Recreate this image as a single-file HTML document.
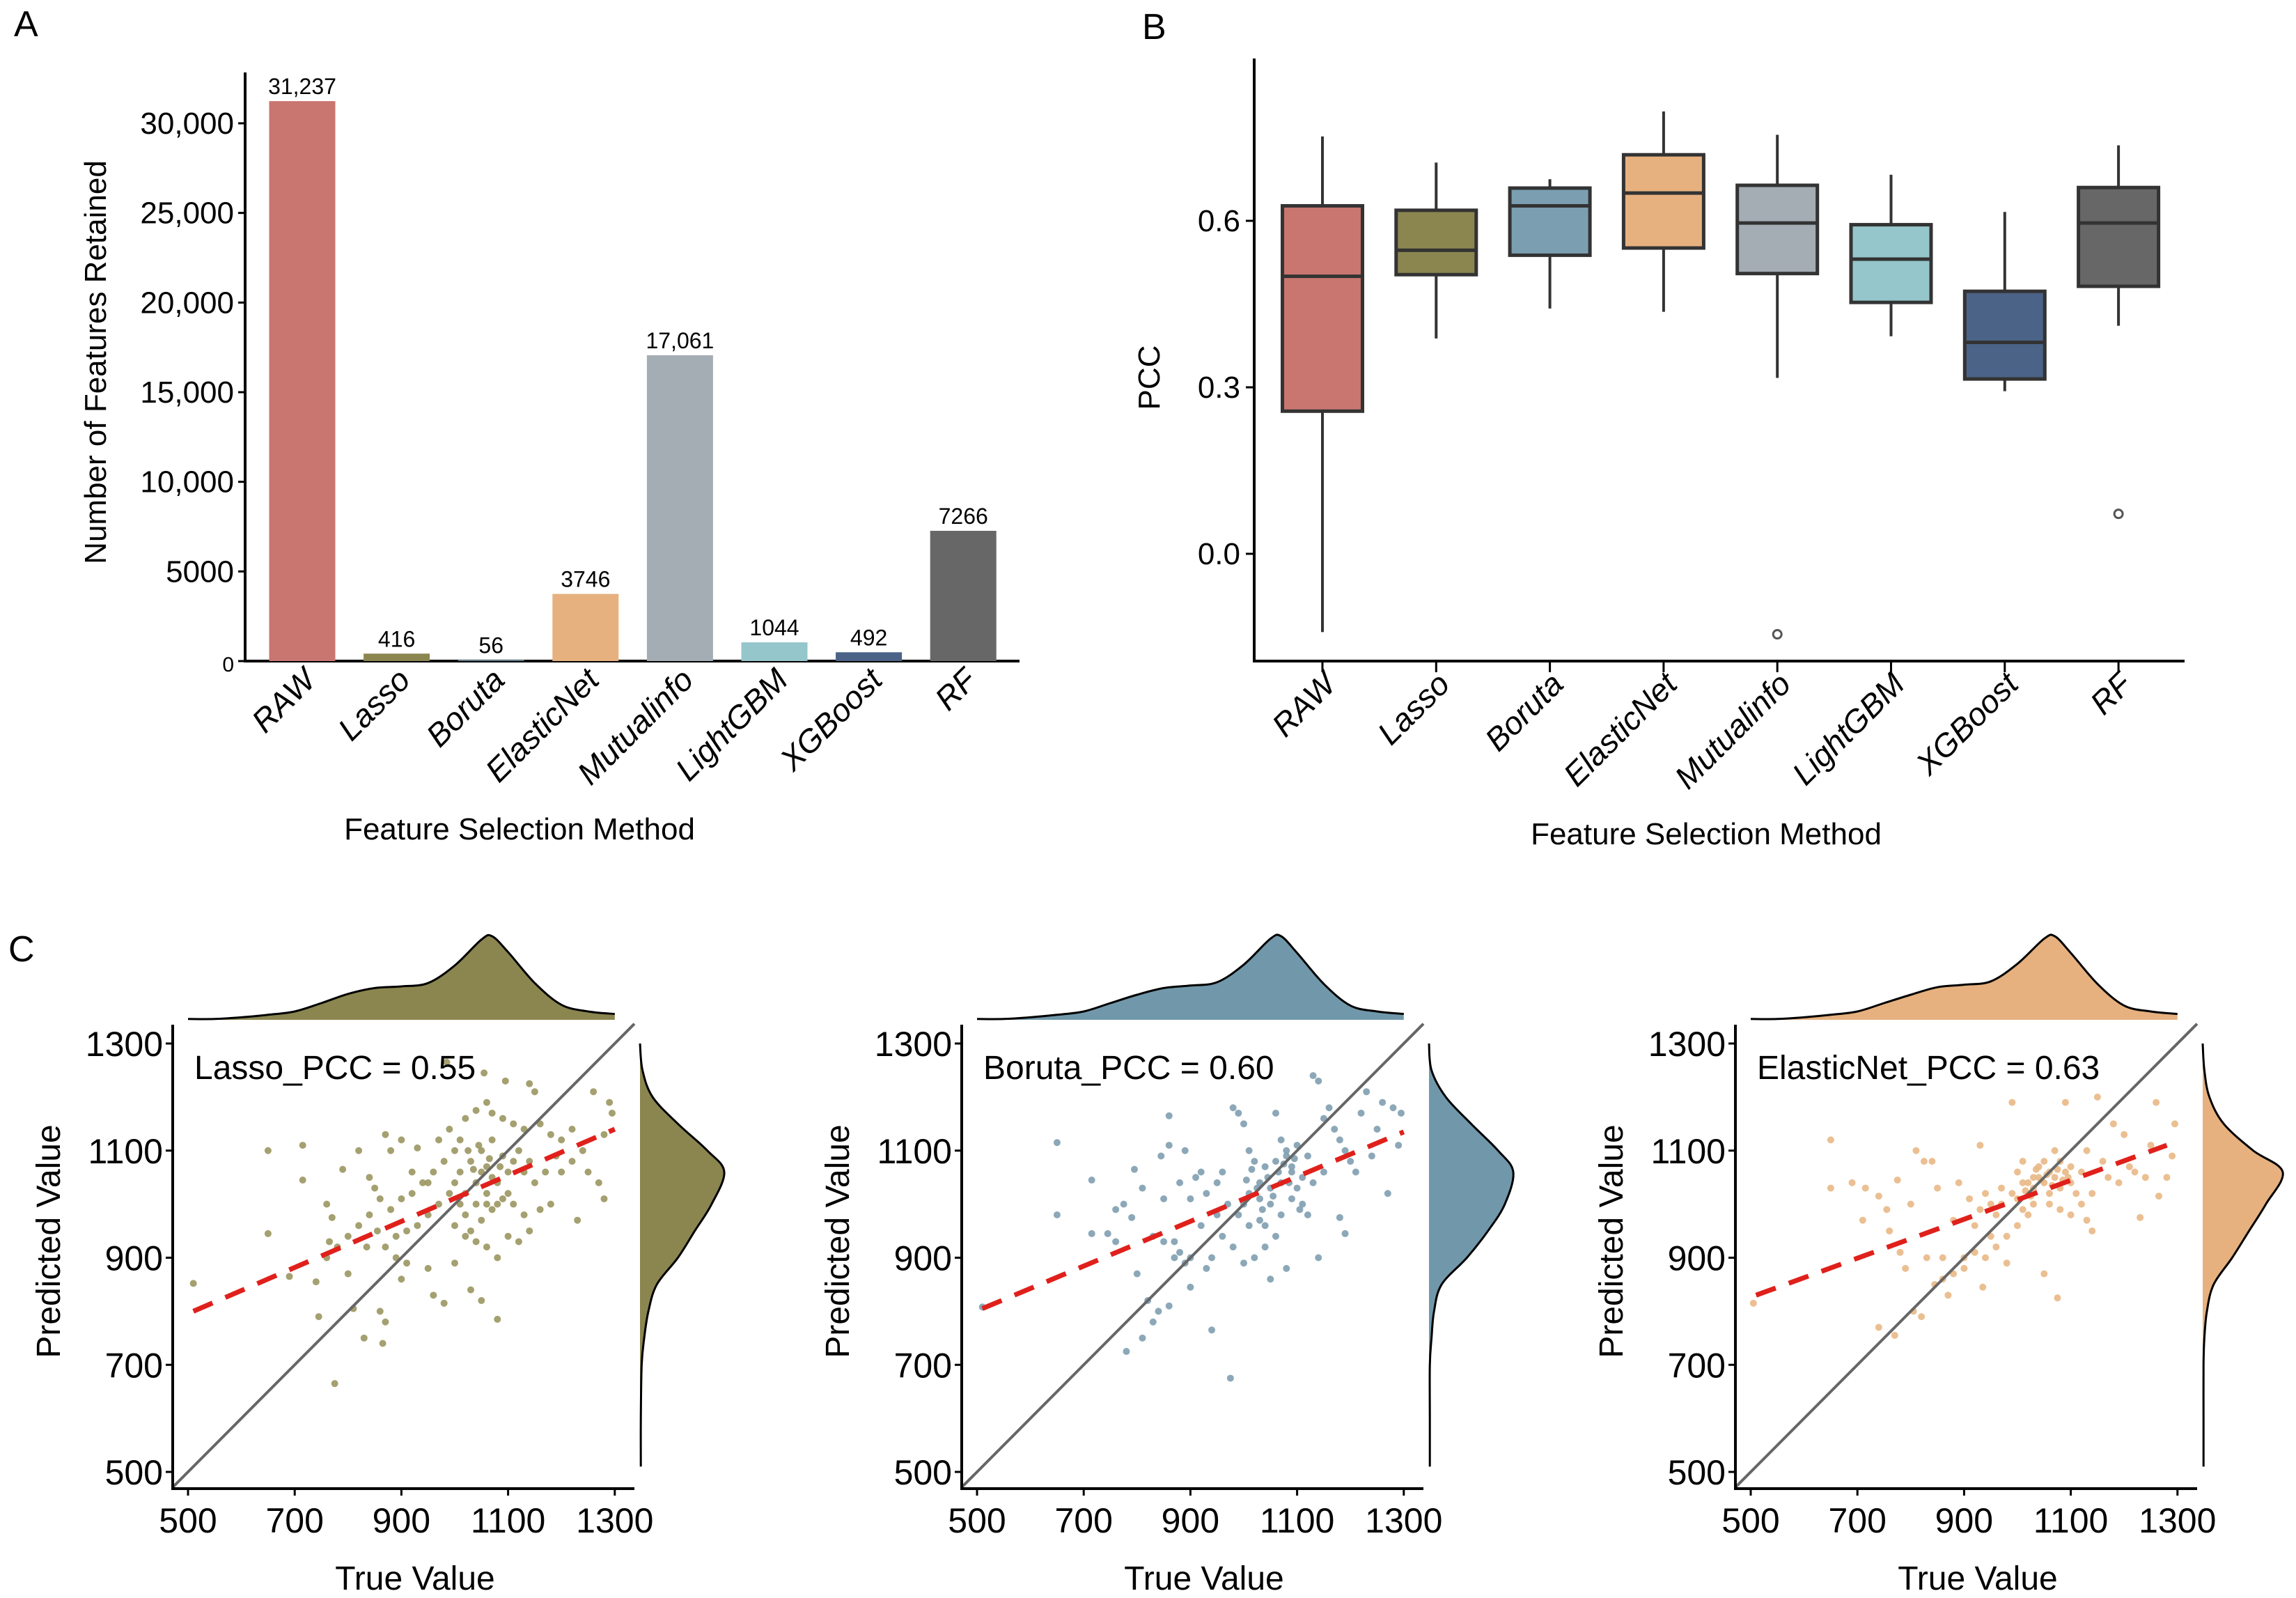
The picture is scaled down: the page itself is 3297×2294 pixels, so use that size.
<!DOCTYPE html>
<html><head><meta charset="utf-8"><style>
html,body{margin:0;padding:0;background:#fff}
svg{display:block;font-family:"Liberation Sans",Arial,sans-serif}
</style></head><body>
<svg id="fig" width="3297" height="2294" viewBox="0 0 3297 2294" xmlns="http://www.w3.org/2000/svg">
<rect width="3297" height="2294" fill="#fff"/>
<text x="20" y="52" font-size="52">A</text>
<text x="1640" y="56" font-size="52">B</text>
<text x="12" y="1380" font-size="52">C</text>
<g id="pa"></g>
<g id="pb"></g>
<g id="pc"></g>
</svg>
<script>
// ---- Panel A data ----
const methods = ["RAW","Lasso","Boruta","ElasticNet","Mutualinfo","LightGBM","XGBoost","RF"];
const featureCounts = [31237,416,56,3746,17061,1044,492,7266];
const countLabels = ["31,237","416","56","3746","17,061","1044","492","7266"];
const aTicks = [0,5000,10000,15000,20000,25000,30000];
const aTickLabels = ["0","5000","10,000","15,000","20,000","25,000","30,000"];
const colors = ["#c8766f","#8b8650","#7b9fb1","#e6b17f","#a4acb4","#94c6cb","#4b6387","#676767"];
// ---- Panel B data ----
const pccTicks = [0.0,0.3,0.6];
const pccTickLabels = ["0.0","0.3","0.6"];
const whiskLow = [-0.141,0.388,0.442,0.436,0.317,0.392,0.293,0.411];
const q1 = [0.257,0.503,0.538,0.551,0.505,0.453,0.315,0.482];
const medians = [0.500,0.547,0.627,0.650,0.596,0.531,0.381,0.596];
const q3 = [0.627,0.619,0.659,0.719,0.664,0.593,0.473,0.660];
const whiskHigh = [0.752,0.705,0.675,0.797,0.755,0.683,0.616,0.736];
const outliers = [[4,-0.145],[7,0.072]];
// ---- Panel C data ----
const cTicks = [500,700,900,1100,1300];
const panelNames = ["Lasso","Boruta","ElasticNet"];
const pccValues = ["0.55","0.60","0.63"];
const fillColors = ["#8b8650","#7198aa","#e6b17f"];
const pointColors = ["#9b9660","#7f9fb0","#e9b886"];
const regLines = [[510,800,1300,1140],[510,805,1300,1135],[510,830,1280,1110]];
const densX = [500,550,600,650,700,750,800,850,900,950,1000,1050,1070,1100,1150,1200,1250,1300];
const topDens = [
 [0.01,0.01,0.03,0.06,0.1,0.2,0.31,0.38,0.4,0.44,0.65,0.96,1,0.81,0.44,0.18,0.1,0.07],
 [0.01,0.01,0.03,0.06,0.1,0.2,0.3,0.38,0.41,0.45,0.66,0.97,1,0.8,0.43,0.17,0.1,0.07],
 [0.01,0.01,0.03,0.06,0.1,0.2,0.3,0.39,0.42,0.46,0.67,0.97,1,0.8,0.43,0.17,0.1,0.07]];
const densY = [1300,1250,1200,1150,1100,1060,1000,950,900,850,800,750,700,600,510];
const rightDens = [
 [0,0.03,0.15,0.45,0.8,1.0,0.85,0.65,0.45,0.2,0.1,0.05,0.02,0.01,0.01],
 [0,0.03,0.2,0.5,0.82,1.0,0.9,0.7,0.45,0.15,0.06,0.03,0.01,0.01,0.01],
 [0,0.02,0.08,0.25,0.6,0.95,0.75,0.55,0.35,0.13,0.05,0.02,0.01,0.01,0.01]];
const ptsLasso = [[510,852],[650,1100],[650,945],[715,1110],[715,1045],[775,665],[690,865],[745,790],[740,855],[760,1000],[770,975],[765,930],[790,1065],[800,870],[810,805],[820,1100],[830,750],[840,1050],[865,740],[870,1130],[880,1100],[900,1120],[930,1105],[985,1265],[1055,1245],[1095,1230],[1140,1225],[1150,1210],[1260,1210],[1290,1190],[1295,1170],[1230,970],[1080,785],[1050,820],[1030,840],[1000,890],[980,815],[960,830],[870,780],[860,800],[950,880],[910,890],[900,860],[890,900],[835,920],[855,950],[880,990],[900,1010],[920,1020],[940,1040],[960,1060],[980,1080],[1000,1100],[1010,1120],[1020,1160],[1040,1175],[1060,1190],[1070,1170],[1090,1160],[1110,1150],[1130,1140],[1160,1150],[1180,1130],[1200,1120],[1220,1140],[1240,1100],[1250,1060],[1270,1040],[1280,1010],[1280,1130],[1190,1090],[1170,1060],[1150,1040],[1140,1080],[1120,1100],[1100,1060],[1080,1040],[1060,1020],[1040,1000],[1020,980],[1000,960],[1030,950],[1050,970],[1070,990],[1090,1010],[1110,1000],[1130,980],[1140,950],[1120,930],[1100,940],[1080,900],[1060,920],[1040,930],[1020,940],[1010,1000],[990,1020],[970,1000],[950,980],[930,960],[910,950],[890,940],[870,920],[850,1030],[860,1010],[840,980],[820,960],[800,940],[780,920],[760,900],[920,1060],[950,1040],[970,1120],[990,1140],[1010,1060],[1030,1080],[1050,1100],[1070,1120],[1090,1090],[1110,1080],[1130,1060],[1050,1060],[1060,1070],[1070,1050],[1040,1040],[1060,1000],[1080,1000],[1100,1020],[1160,990],[1180,1000],[1200,1060],[1220,1080],[1000,1040],[1020,1020],[1035,1065],[1065,1085],[1085,1070],[1045,1110],[1025,1100]];
const ptsBoruta = [[510,808],[650,1115],[650,980],[715,1045],[715,945],[745,945],[760,990],[760,930],[775,1000],[780,725],[790,975],[795,1065],[800,870],[810,1030],[810,750],[820,820],[830,780],[840,800],[845,1090],[850,1010],[860,1165],[860,1110],[860,810],[870,930],[880,1040],[890,1100],[900,900],[900,845],[910,1050],[920,1060],[940,765],[950,980],[960,1060],[970,1000],[975,675],[980,1180],[990,1170],[1000,1150],[1010,1100],[1020,1080],[1030,1040],[1040,960],[1050,860],[1060,1170],[1070,1120],[1080,1090],[1090,1060],[1100,1030],[1110,1000],[1120,980],[1130,1240],[1140,1230],[1150,1160],[1160,1180],[1170,1140],[1180,1120],[1190,1100],[1200,1080],[1210,1060],[1220,1170],[1230,1210],[1240,1090],[1250,1140],[1260,1190],[1270,1020],[1280,1180],[1290,1110],[1295,1170],[1140,900],[1190,945],[1180,975],[1080,880],[1060,940],[1040,920],[1020,900],[1000,890],[980,920],[960,940],[940,900],[930,880],[920,960],[1000,1000],[1010,1020],[1030,1010],[1050,1030],[1070,1040],[1090,1070],[1110,1050],[1130,1040],[1150,1060],[1040,1070],[1060,1080],[1080,1100],[1100,1110],[1120,1090],[1050,1000],[1070,980],[1090,1010],[1030,970],[1010,960],[990,980],[870,900],[880,910],[890,890],[850,930],[830,940],[900,1010],[930,1020],[950,1040],[1045,1050],[1065,1060],[1075,1075],[1055,1015],[1025,1030],[1085,1040],[1035,990],[1015,1065],[1095,1085],[1105,990],[1005,1045]];
const ptsElastic = [[505,815],[650,1120],[650,1030],[690,1040],[715,1030],[710,970],[740,1015],[740,770],[755,990],[760,950],[770,755],[775,1045],[780,910],[790,880],[800,1000],[805,800],[810,1100],[820,790],[825,1080],[830,900],[840,1080],[845,850],[850,1030],[860,860],[870,830],[880,970],[890,1040],[900,900],[910,1010],[920,960],[930,1110],[935,845],[940,1020],[950,940],[960,980],[970,1000],[980,890],[990,1190],[1000,1060],[1010,1080],[1020,1040],[1030,1000],[1040,1050],[1050,870],[1060,1060],[1070,1100],[1075,825],[1080,1080],[1090,1190],[1100,1040],[1110,1020],[1120,1060],[1130,1100],[1140,950],[1150,1200],[1160,1080],[1170,1050],[1180,1150],[1190,1040],[1200,1130],[1210,1070],[1220,1060],[1230,975],[1240,1050],[1250,1110],[1260,1190],[1265,1015],[1280,1050],[1290,1090],[1295,1150],[1000,1010],[1010,990],[1030,1030],[1040,1070],[1050,1040],[1060,1020],[1070,1050],[1080,1030],[1090,1060],[1100,1070],[1020,980],[1000,960],[980,940],[960,920],[940,900],[920,910],[900,880],[880,870],[860,900],[1060,1000],[1080,990],[1100,980],[1120,1000],[1140,1020],[1130,970],[1050,1080],[1030,1050],[1010,1040],[990,1020],[970,1030],[950,1000],[930,990],[1045,1045],[1055,1055],[1065,1035],[1035,1065],[1075,1065],[1085,1045],[1025,1015],[1015,1025],[1095,1050]];
const allPts = [ptsLasso, ptsBoruta, ptsElastic];

const NS="http://www.w3.org/2000/svg";
function mk(parent,tag,attrs,text){const e=document.createElementNS(NS,tag);for(const k in attrs)e.setAttribute(k,attrs[k]);if(text!==undefined)e.textContent=text;parent.appendChild(e);return e;}
function smooth(pts){
 let d=`M${pts[0][0]},${pts[0][1]}`;
 for(let i=0;i<pts.length-1;i++){
  const p0=pts[Math.max(0,i-1)],p1=pts[i],p2=pts[i+1],p3=pts[Math.min(pts.length-1,i+2)];
  const c1=[p1[0]+(p2[0]-p0[0])/6,p1[1]+(p2[1]-p0[1])/6];
  const c2=[p2[0]-(p3[0]-p1[0])/6,p2[1]-(p3[1]-p1[1])/6];
  d+=` C${c1[0]},${c1[1]} ${c2[0]},${c2[1]} ${p2[0]},${p2[1]}`;
 }
 return d;
}

// ===== Panel A =====
(function(){
 const g=document.getElementById('pa');
 const x0=352,yBase=949,yTop=104,xEnd=1464;
 const y=v=>yBase-v*(949-177)/30000;
 const cx=i=>434+i*135.6;
 mk(g,'line',{x1:x0,y1:yTop,x2:x0,y2:yBase+2,stroke:'#000','stroke-width':4});
 mk(g,'line',{x1:x0-2,y1:yBase,x2:xEnd,y2:yBase,stroke:'#000','stroke-width':4});
 aTicks.forEach((t,i)=>{
  const tk=mk(g,'line',{x1:x0-10,y1:y(t),x2:x0,y2:y(t),stroke:'#000','stroke-width':3});
  
  
  const tl=mk(g,'text',{x:x0-16,y:y(t)+15,'font-size':t===0?30:44,'text-anchor':'end'},aTickLabels[i]);
  
  
 });
 methods.forEach((m,i)=>{
  const top=y(featureCounts[i]);
  const b=mk(g,'rect',{x:cx(i)-47.5,y:top,width:95,height:yBase-top,fill:colors[i]});
  
  
  const vl=mk(g,'text',{x:cx(i),y:top-10,'font-size':32,'text-anchor':'middle'},countLabels[i]);
  
  
  const cl=mk(g,'text',{x:0,y:0,'font-size':46,'text-anchor':'end',transform:`translate(${cx(i)+22},${yBase+30}) rotate(-45)`,'font-style':'italic'},m);
  
  
 });
 const yt=mk(g,'text',{x:0,y:0,'font-size':44,'text-anchor':'middle',transform:'translate(152,520) rotate(-90)'},'Number of Features Retained');
 
 
 const xt=mk(g,'text',{x:746,y:1205,'font-size':44,'text-anchor':'middle'},'Feature Selection Method');
 
 
})();

// ===== Panel B =====
(function(){
 const g=document.getElementById('pb');
 const x0=1801,yBase=949,yTop=84,xEnd=3137;
 const y=v=>795-v*239/0.3;
 const cx=i=>1899+i*163.3;
 const bw=115;
 mk(g,'line',{x1:x0,y1:yTop,x2:x0,y2:yBase+2,stroke:'#000','stroke-width':4});
 mk(g,'line',{x1:x0-2,y1:yBase,x2:xEnd,y2:yBase,stroke:'#000','stroke-width':4});
 pccTicks.forEach((t,i)=>{
  const tk=mk(g,'line',{x1:x0-12,y1:y(t),x2:x0,y2:y(t),stroke:'#000','stroke-width':3});
  
  
  const tl=mk(g,'text',{x:x0-20,y:y(t)+15,'font-size':44,'text-anchor':'end'},pccTickLabels[i]);
  
  
 });
 methods.forEach((m,i)=>{
  const c=cx(i);
  const tk=mk(g,'line',{x1:c,y1:yBase,x2:c,y2:yBase+16,stroke:'#000','stroke-width':3});
  
  
  mk(g,'line',{x1:c,y1:y(whiskHigh[i]),x2:c,y2:y(q3[i]),stroke:'#333','stroke-width':4});
  mk(g,'line',{x1:c,y1:y(q1[i]),x2:c,y2:y(whiskLow[i]),stroke:'#333','stroke-width':4});
  const bx=mk(g,'rect',{x:c-bw/2,y:y(q3[i]),width:bw,height:y(q1[i])-y(q3[i]),fill:colors[i],stroke:'#333','stroke-width':5});
  
  
  const md=mk(g,'line',{x1:c-bw/2,y1:y(medians[i]),x2:c+bw/2,y2:y(medians[i]),stroke:'#333','stroke-width':5});
  
  
  const cl=mk(g,'text',{x:0,y:0,'font-size':46,'text-anchor':'end',transform:`translate(${c+22},${yBase+36}) rotate(-45)`,'font-style':'italic'},m);
  
  
 });
 outliers.forEach(o=>{
  const p=mk(g,'circle',{cx:cx(o[0]),cy:y(o[1]),r:6,fill:'none',stroke:'#555','stroke-width':3});
  
  
 });
 const yt=mk(g,'text',{x:0,y:0,'font-size':44,'text-anchor':'middle',transform:'translate(1665,542) rotate(-90)'},'PCC');
 
 
 const xt=mk(g,'text',{x:2450,y:1212,'font-size':44,'text-anchor':'middle'},'Feature Selection Method');
 
 
})();

// ===== Panel C =====
(function(){
 const root=document.getElementById('pc');
 const offs=[0,1133,2244];
 panelNames.forEach((name,p)=>{
  const g=mk(root,'g',{transform:`translate(${offs[p]},0)`});
  
  
  const x0=248,xEnd=911,yTop=1471,yBase=2137;
  const sx=v=>270+(v-500)*153.2/200;
  const sy=v=>2113-(v-500)*153.75/200;
  // top density
  const tp=densX.map((v,i)=>[sx(v),1464-topDens[p][i]*120]);
  const tl=smooth(tp);
  const top=mk(g,'path',{d:tl+` L${tp[tp.length-1][0]},1464 L${tp[0][0]},1464 Z`,fill:fillColors[p],stroke:'none'});
  
  
  mk(g,'path',{d:tl,fill:'none',stroke:'#000','stroke-width':3,'stroke-linejoin':'round'});
  // right density
  const rp=densY.map((v,i)=>[919+rightDens[p][i]*121,sy(v)]);
  const rl=smooth(rp);
  const rt=mk(g,'path',{d:rl+` L919,${rp[rp.length-1][1]} L919,${rp[0][1]} Z`,fill:fillColors[p],stroke:'none'});
  
  
  mk(g,'path',{d:rl,fill:'none',stroke:'#000','stroke-width':3,'stroke-linejoin':'round'});
  // points
  allPts[p].forEach(pt=>{
   const c=mk(g,'circle',{cx:sx(pt[0]),cy:sy(pt[1]),r:5,fill:pointColors[p],'fill-opacity':0.9});
   
   
  });
  // diagonal
  const lo=500-22/153.2*200, hi=500+(xEnd-270)/153.2*200;
  const dg=mk(g,'line',{x1:sx(lo),y1:sy(lo),x2:sx(hi),y2:sy(hi),stroke:'#666','stroke-width':4});
  
  
  const L=regLines[p];
  const rg=mk(g,'line',{x1:sx(L[0]),y1:sy(L[1]),x2:sx(L[2]),y2:sy(L[3]),stroke:'#e0201b','stroke-width':7,'stroke-dasharray':'30 20'});
  
  
  // axes
  mk(g,'line',{x1:x0,y1:yTop,x2:x0,y2:yBase+2,stroke:'#000','stroke-width':4});
  mk(g,'line',{x1:x0-2,y1:yBase,x2:xEnd,y2:yBase,stroke:'#000','stroke-width':4});
  cTicks.forEach(t=>{
   mk(g,'line',{x1:x0-10,y1:sy(t),x2:x0,y2:sy(t),stroke:'#000','stroke-width':3});
   const yl=mk(g,'text',{x:x0-14,y:sy(t)+18,'font-size':50,'text-anchor':'end'},String(t));
   
   
   mk(g,'line',{x1:sx(t),y1:yBase,x2:sx(t),y2:yBase+10,stroke:'#000','stroke-width':3});
   const xl=mk(g,'text',{x:sx(t),y:2200,'font-size':50,'text-anchor':'middle'},String(t));
   
   
  });
  const lab=mk(g,'text',{x:279,y:1549,'font-size':48},name+'_PCC = '+pccValues[p]);
  
  
  const yt=mk(g,'text',{x:0,y:0,'font-size':48,'text-anchor':'middle',transform:'translate(86,1782) rotate(-90)'},'Predicted Value');
  
  
  const xt=mk(g,'text',{x:596,y:2282,'font-size':48,'text-anchor':'middle'},'True Value');
  
  
 });
})();
</script>
</body></html>
